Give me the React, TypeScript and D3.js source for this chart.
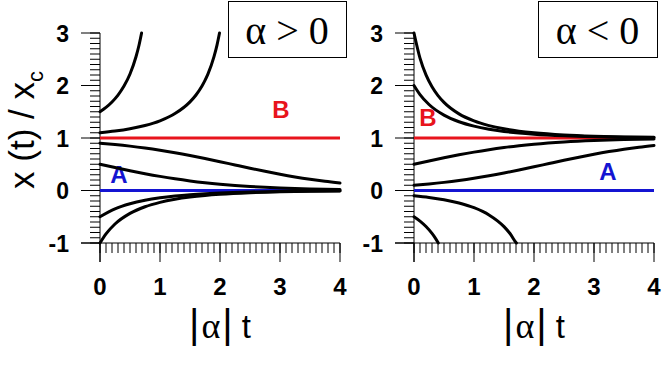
import React from "react";
import * as d3 from "d3";

const W = 662;
const H = 388;

// x tick labels and y tick labels
const xTicks = [0, 1, 2, 3, 4];
const yTicks = [-1, 0, 1, 2, 3];

// Left panel (alpha > 0) curves: [t, x/xc]
const leftC1 = [[0, 1.5], [0.1, 1.5833], [0.2, 1.6867], [0.3, 1.818], [0.4, 1.9892], [0.5, 2.2201], [0.6, 2.547], [0.65, 2.7664], [0.693, 3.0]];
const leftC2 = [[0, 1.1], [0.25, 1.1322], [0.5, 1.1763], [0.75, 1.2383], [1.0, 1.3282], [1.25, 1.4648], [1.5, 1.6875], [1.6, 1.8191], [1.7, 1.9906], [1.75, 2.0971], [1.8, 2.2221], [1.9, 2.5498], [1.95, 2.7699], [1.992, 3.0]];
const leftC3 = [[0, 0.9], [0.25, 0.8751], [0.5, 0.8452], [0.75, 0.8096], [1.0, 0.768], [1.25, 0.7206], [1.5, 0.6676], [1.75, 0.61], [2.0, 0.5491], [2.25, 0.4868], [2.5, 0.4249], [2.75, 0.3652], [3.0, 0.3094], [3.25, 0.2587], [3.5, 0.2137], [3.75, 0.1747], [4.0, 0.1415]];
const leftC4 = [[0, 0.5], [0.25, 0.4378], [0.5, 0.3775], [0.75, 0.3208], [1.0, 0.2689], [1.25, 0.2227], [1.5, 0.1824], [1.75, 0.148], [2.0, 0.1192], [2.25, 0.0953], [2.5, 0.0759], [2.75, 0.0601], [3.0, 0.0474], [3.25, 0.0373], [3.5, 0.0293], [3.75, 0.023], [4.0, 0.018]];
const leftC5 = [[0, -0.5], [0.25, -0.3506], [0.5, -0.2534], [0.75, -0.1869], [1.0, -0.1398], [1.25, -0.1056], [1.5, -0.0804], [1.75, -0.0615], [2.0, -0.0472], [2.5, -0.0281], [3.0, -0.0169], [3.5, -0.0102], [4.0, -0.0061]];
const leftC6 = [[0, -1], [0.1, -0.8262], [0.25, -0.6377], [0.5, -0.4353], [0.75, -0.3092], [1.0, -0.2254], [1.25, -0.1672], [1.5, -0.1256], [1.75, -0.0952], [2.0, -0.0726], [2.5, -0.0428], [3.0, -0.0255], [3.5, -0.0153], [4.0, -0.0092]];

// Right panel (alpha < 0) curves
const rightC1 = [[0, 3], [0.1, 2.5203], [0.2, 2.2018], [0.3, 1.9758], [0.4, 1.8079], [0.5, 1.6788], [0.75, 1.4597], [1.0, 1.325], [1.25, 1.2361], [1.5, 1.1748], [1.75, 1.131], [2.0, 1.0992], [2.5, 1.0579], [3.0, 1.0343], [3.5, 1.0205], [4.0, 1.0124]];
const rightC2 = [[0, 2], [0.1, 1.8262], [0.25, 1.6377], [0.5, 1.4353], [0.75, 1.3092], [1.0, 1.2254], [1.25, 1.1672], [1.5, 1.1256], [1.75, 1.0952], [2.0, 1.0726], [2.5, 1.0428], [3.0, 1.0255], [3.5, 1.0153], [4.0, 1.0092]];
const rightC3 = [[0, 0.5], [0.25, 0.5622], [0.5, 0.6225], [0.75, 0.6792], [1.0, 0.7311], [1.25, 0.7773], [1.5, 0.8176], [1.75, 0.852], [2.0, 0.8808], [2.5, 0.9241], [3.0, 0.9526], [3.5, 0.9707], [4.0, 0.982]];
const rightC4 = [[0, 0.1], [0.25, 0.1249], [0.5, 0.1548], [0.75, 0.1904], [1.0, 0.232], [1.25, 0.2794], [1.5, 0.3324], [1.75, 0.39], [2.0, 0.4509], [2.25, 0.5132], [2.5, 0.5751], [2.75, 0.6348], [3.0, 0.6906], [3.25, 0.7413], [3.5, 0.7863], [3.75, 0.8253], [4.0, 0.8585]];
const rightC5 = [[0, -0.1], [0.25, -0.1322], [0.5, -0.1763], [0.75, -0.2383], [1.0, -0.3282], [1.25, -0.4648], [1.5, -0.6876], [1.6, -0.8191], [1.7, -0.9906], [1.707, -1.0]];
const rightC6 = [[0, -0.5], [0.1, -0.5833], [0.2, -0.6867], [0.3, -0.818], [0.35, -0.8976], [0.405, -1.0]];

// Fixed points
const fixedA = [[0, 0], [4, 0]];
const fixedB = [[0, 1], [4, 1]];

const leftCurves = [leftC1, leftC2, leftC3, leftC4, leftC5, leftC6];
const rightCurves = [rightC1, rightC2, rightC3, rightC4, rightC5, rightC6];

const RED = "#e8141c";
const BLUE = "#1414d2";
const SANS = "'Liberation Sans', Arial, sans-serif";
const SERIF = "'Liberation Serif', 'Times New Roman', serif";

type PanelProps = {
  x0: number;
  curves: number[][][];
  sign: string;
  boxX: number;
  boxW: number;
  labelB: [number, number];
  labelA: [number, number];
};

function Panel({ x0, curves, sign, boxX, boxW, labelB, labelA }: PanelProps) {
  const xs = d3.scaleLinear().domain([0, 4]).range([x0, x0 + 240]);
  const ys = d3.scaleLinear().domain([-1, 3]).range([243, 33]);
  const line = d3
    .line<number[]>()
    .x((d) => xs(d[0]))
    .y((d) => ys(d[1]))
    .curve(d3.curveMonotoneX);
  const xMinor = d3.range(0, 41).map((i) => i / 10);
  const yMinor = d3.range(-10, 31).map((i) => i / 10);
  const axX = xs(0);
  const axY = ys(-1);
  return (
    <g>
      {/* y axis */}
      <line x1={axX} x2={axX} y1={ys(3)} y2={axY + 19} stroke="#000" strokeWidth={1} />
      {yMinor.map((v, i) => (
        <line key={"ym" + i} x1={axX - 10} x2={axX} y1={ys(v)} y2={ys(v)} stroke="#000" strokeWidth={1} />
      ))}
      {yTicks.map((v) => (
        <line key={"yM" + v} x1={axX - 19} x2={axX} y1={ys(v)} y2={ys(v)} stroke="#000" strokeWidth={1} />
      ))}
      {yTicks.map((v) => (
        <text
          key={"yl" + v}
          x={axX - 31}
          y={ys(v) + 8.5}
          textAnchor="end"
          fontFamily={SANS}
          fontWeight="bold"
          fontSize={23}
        >
          {v}
        </text>
      ))}
      {/* x axis */}
      <line x1={axX - 19} x2={xs(4)} y1={axY} y2={axY} stroke="#000" strokeWidth={1} />
      {xMinor.map((v, i) => (
        <line key={"xm" + i} x1={xs(v)} x2={xs(v)} y1={axY} y2={axY + 10} stroke="#000" strokeWidth={1} />
      ))}
      {xTicks.map((v) => (
        <line key={"xM" + v} x1={xs(v)} x2={xs(v)} y1={axY} y2={axY + 19} stroke="#000" strokeWidth={1} />
      ))}
      {xTicks.map((v) => (
        <text
          key={"xl" + v}
          x={xs(v)}
          y={295}
          textAnchor="middle"
          fontFamily={SANS}
          fontWeight="bold"
          fontSize={24}
        >
          {v}
        </text>
      ))}
      {/* x title */}
      <text x={xs(2)} y={338} textAnchor="middle" fontFamily={SANS} fontSize={33} style={{ whiteSpace: "pre" }}>
        <tspan fontSize={40}>|</tspan>
        <tspan fontFamily={SERIF} fontSize={36} dx={2}>α</tspan>
        <tspan fontSize={40} dx={2}>|</tspan>
        <tspan>{" t"}</tspan>
      </text>
      {/* fixed lines */}
      <path d={line(fixedB) || ""} fill="none" stroke={RED} strokeWidth={3} />
      <path d={line(fixedA) || ""} fill="none" stroke={BLUE} strokeWidth={3} />
      <text x={labelB[0]} y={labelB[1]} textAnchor="middle" fontFamily={SANS} fontWeight="bold" fontSize={24} fill={RED}>
        B
      </text>
      <text x={labelA[0]} y={labelA[1]} textAnchor="middle" fontFamily={SANS} fontWeight="bold" fontSize={24} fill={BLUE}>
        A
      </text>
      {/* trajectories */}
      {curves.map((c, i) => (
        <path key={"c" + i} d={line(c) || ""} fill="none" stroke="#000" strokeWidth={3} strokeLinecap="round" />
      ))}
      {/* panel label box */}
      <rect x={boxX + 0.5} y={1.5} width={boxW} height={56} fill="#fff" stroke="#000" strokeWidth={1} />
      <text
        x={boxX + boxW / 2}
        y={44}
        textAnchor="middle"
        fontFamily={SERIF}
        fontSize={40}
        style={{ whiteSpace: "pre" }}
      >
        {"α " + sign + " 0"}
      </text>
    </g>
  );
}

export default function App() {
  return (
    <svg
      width={W}
      height={H}
      viewBox={`0 0 ${W} ${H}`}
      style={{ position: "absolute", left: 0, top: 0, background: "#fff" }}
    >
      <rect x={0} y={0} width={W} height={H} fill="#fff" />
      <text
        transform="translate(34,130) rotate(-90)"
        textAnchor="middle"
        fontFamily={SANS}
        fontSize={35}
      >
        x (t) / x
        <tspan fontSize={22} dy={9}>c</tspan>
      </text>
      <Panel
        x0={100}
        curves={leftCurves}
        sign=">"
        boxX={228}
        boxW={118}
        labelB={[281, 118]}
        labelA={[119, 183]}
      />
      <Panel
        x0={414}
        curves={rightCurves}
        sign="<"
        boxX={538}
        boxW={119}
        labelB={[428, 126]}
        labelA={[608, 180]}
      />
    </svg>
  );
}
